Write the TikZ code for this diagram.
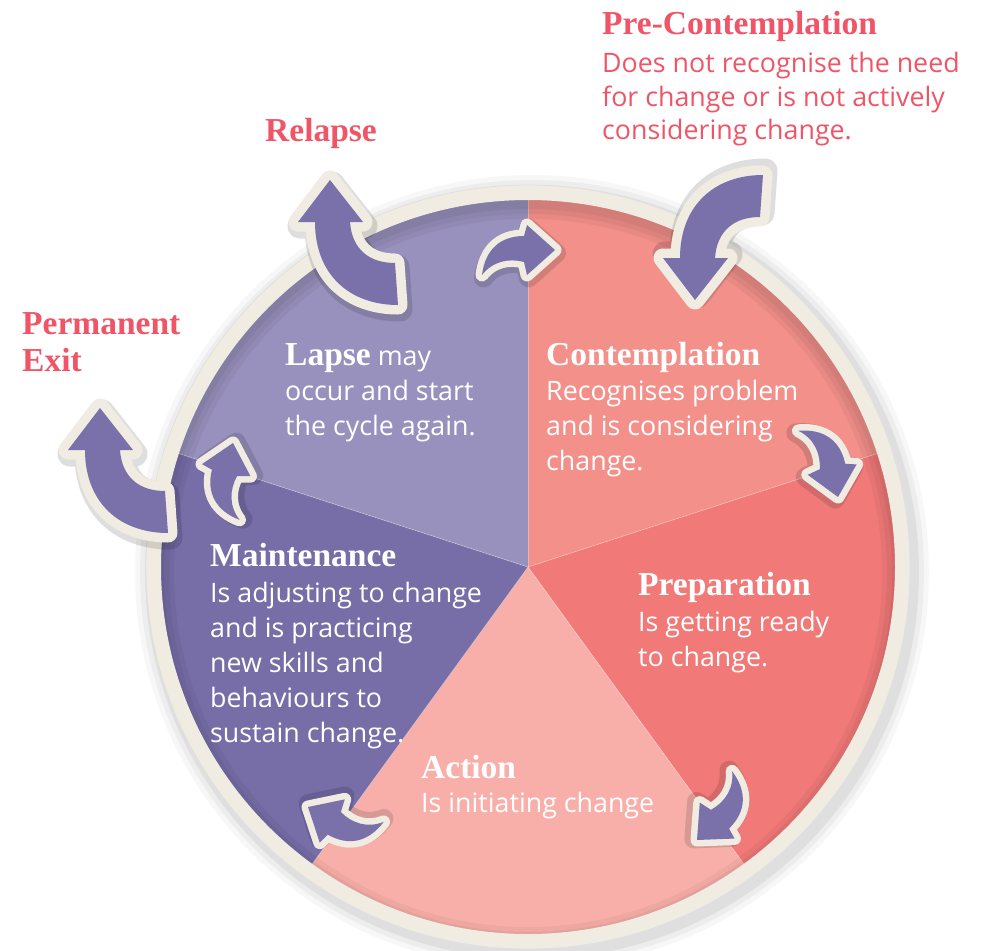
\documentclass[tikz,border=0pt]{standalone}
\usepackage{fontspec}
\setmainfont{Liberation Serif}
\setsansfont{Open Sans}
\definecolor{lapsec}{HTML}{9991BD}
\definecolor{maintc}{HTML}{776DA7}
\definecolor{contc}{HTML}{F3908A}
\definecolor{prepc}{HTML}{F17A79}
\definecolor{actc}{HTML}{F9AFA9}
\definecolor{arrpurple}{HTML}{7A70AA}
\definecolor{cream}{HTML}{F0ECE2}
\definecolor{redtxt}{HTML}{EF5567}
\newcommand\hd{\fontsize{33.5}{40}\selectfont\rmfamily\bfseries}
\newcommand\bd{\fontsize{26.8}{35}\selectfont\sffamily}
\tikzset{
  txt/.style={anchor=base west, inner sep=0pt},
  redt/.style={txt, text=redtxt},
  wht/.style={txt, text=white},
  bsh/.style={draw=black, draw opacity=.13, line width=25, line join=round, shift={(2,4)}},
  bbo/.style={draw=cream, line width=19, line join=round},
  afl/.style={fill=arrpurple},
  ssh/.style={draw=black, draw opacity=.13, line width=19, line join=round, shift={(1.5,3)}},
  sbo/.style={draw=cream, line width=13, line join=round},
  bigarr/.pic={
    \path[bsh] (0,0) -- (33,42) -- (20,42) .. controls (22,70) and (40,83) .. (65,83) -- (68,125) .. controls (20,125) and (-15,95) .. (-15,42) -- (-32,42) -- cycle;
    \path[bbo] (0,0) -- (33,42) -- (20,42) .. controls (22,70) and (40,83) .. (65,83) -- (68,125) .. controls (20,125) and (-15,95) .. (-15,42) -- (-32,42) -- cycle;
    \path[afl] (0,0) -- (33,42) -- (20,42) .. controls (22,70) and (40,83) .. (65,83) -- (68,125) .. controls (20,125) and (-15,95) .. (-15,42) -- (-32,42) -- cycle;
  },
  smallarr/.pic={
    \path[ssh] (0,0) -- (-28,-25) -- (-31,-14) .. controls (-55,-14) and (-70,0) .. (-73,25) .. controls (-62,11) and (-46,8) .. (-31,12) -- (-28,25) -- cycle;
    \path[sbo] (0,0) -- (-28,-25) -- (-31,-14) .. controls (-55,-14) and (-70,0) .. (-73,25) .. controls (-62,11) and (-46,8) .. (-31,12) -- (-28,25) -- cycle;
    \path[afl] (0,0) -- (-28,-25) -- (-31,-14) .. controls (-55,-14) and (-70,0) .. (-73,25) .. controls (-62,11) and (-46,8) .. (-31,12) -- (-28,25) -- cycle;
  }
}
\begin{document}
\begin{tikzpicture}[x=1pt,y=-1pt]
\useasboundingbox (0,0) rectangle (982,950);
\coordinate (C) at (528,567);
% outer drop shadow
\foreach \w/\o in {34/0.03,24/0.04,14/0.06}
  \draw[black, opacity=\o, line width=\w] (532,572) circle[radius=380];
% sectors
\begin{scope}
  \clip (C) circle[radius=369];
  \fill[contc] (C) -- (528,67) -- (1003.5,412.5) -- cycle;
  \fill[prepc] (C) -- (1003.5,412.5) -- (822,971.5) -- cycle;
  \fill[actc] (C) -- (822,971.5) -- (234,971.5) -- cycle;
  \fill[maintc] (C) -- (234,971.5) -- (52.5,412.5) -- cycle;
  \fill[lapsec] (C) -- (52.5,412.5) -- (528,67) -- cycle;
  \foreach \p in {(528,67),(1003.5,412.5),(822,971.5),(234,971.5),(52.5,412.5)}
    \draw[white, opacity=.3, line width=.8] (C) -- \p;
  % inner shadow
  \foreach \w in {30,20,10}
    \draw[black, opacity=.045, line width=\w] (528,573) circle[radius=369];
\end{scope}
% ring
\draw[cream, line width=15] (C) circle[radius=374.5];
\draw[black!12, line width=.8] (C) circle[radius=382];
% arrows
\pic at (330,180) {bigarr};
\pic[yscale=-1] at (695,300) {bigarr};
\pic at (100,408) {bigarr};
\pic at (555,250) {smallarr};
\pic[rotate=-78] at (838,497) {smallarr};
\pic[rotate=-136] at (697,840) {smallarr};
\pic[rotate=150] at (308,807) {smallarr};
\pic[rotate=76] at (233,443) {smallarr};
% red texts
\node[redt, font=\hd] (pc) at (602,35) {Pre-Contemplation};
\node[redt, font=\bd] (pc1) at (602,72) {Does not recognise the need};
\node[redt, font=\bd] (pc2) at (602,106) {for change or is not actively};
\node[redt, font=\bd] (pc3) at (602,139) {considering change.};
\node[redt, font=\hd] (rel) at (265,141) {Relapse};
\node[redt, font=\hd] (pe1) at (22,334) {Permanent};
\node[redt, font=\hd] (pe2) at (22,371) {Exit};
% white texts
\node[wht] (la1) at (285,365) {{\hd Lapse}{\bd\ may}};
\node[wht, font=\bd] (la2) at (285,400) {occur and start};
\node[wht, font=\bd] (la3) at (285,435) {the cycle again.};
\node[wht, font=\hd] (co) at (546,365) {Contemplation};
\node[wht, font=\bd] (co1) at (546,400) {Recognises problem};
\node[wht, font=\bd] (co2) at (546,435) {and is considering};
\node[wht, font=\bd] (co3) at (546,470) {change.};
\node[wht, font=\hd] (pr) at (638,595) {Preparation};
\node[wht, font=\bd] (pr1) at (638,631) {Is getting ready};
\node[wht, font=\bd] (pr2) at (638,666) {to change.};
\node[wht, font=\hd] (ac) at (421,778) {Action};
\node[wht, font=\bd] (ac1) at (421,812) {Is initiating change};
\node[wht, font=\hd] (ma) at (210,566) {Maintenance};
\node[wht, font=\bd] (ma1) at (210,602) {Is adjusting to change};
\node[wht, font=\bd] (ma2) at (210,637) {and is practicing};
\node[wht, font=\bd] (ma3) at (210,672) {new skills and};
\node[wht, font=\bd] (ma4) at (210,707) {behaviours to};
\node[wht, font=\bd] (ma5) at (210,742) {sustain change.};
\end{tikzpicture}
\end{document}
